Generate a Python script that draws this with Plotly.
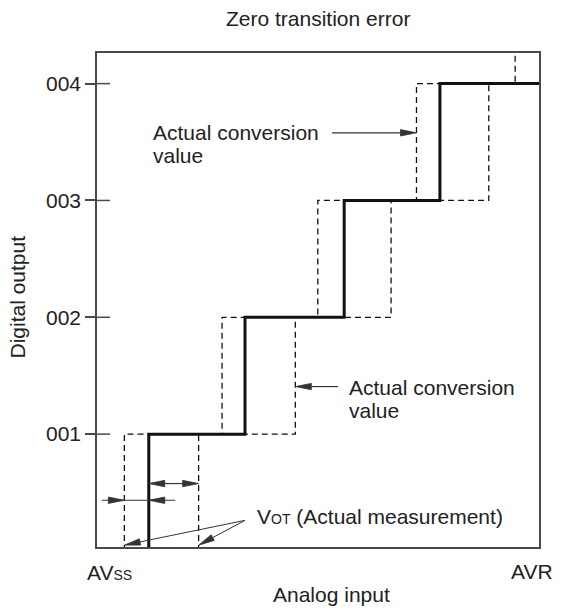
import math
import plotly.graph_objects as go

# ---------------- data ----------------
codes = [1, 2, 3, 4]
code_labels = ["001", "002", "003", "004"]
# transition points (x in LSB-step units from AVss)
early_transitions = [0.28, 1.28, 2.26, 3.27, 4.28]   # dashed, left staircase
actual_transitions = [0.53, 1.515, 2.53, 3.51]       # bold staircase
late_transitions = [1.04, 2.03, 3.01, 4.01]          # dashed, right staircase

# ---------------- layout geometry ----------------
W, H = 573, 608
ML, MR, MT, MB = 97, 34, 53, 61
X_RANGE = [0, 4.524]
Y_RANGE = [0.034, 4.262]
SX = (W - ML - MR) / (X_RANGE[1] - X_RANGE[0])
SY = (H - MT - MB) / (Y_RANGE[1] - Y_RANGE[0])
X_END = X_RANGE[1] + 1

FONT = "Liberation Sans, Arial, Helvetica, sans-serif"
TXT = "#222222"
AX = "#4a4a4a"
ARW = "#333333"
FS = 21

fig = go.Figure()

# dashed staircases
fig.add_trace(go.Scatter(
    x=early_transitions + [X_END], y=[0] + codes + [codes[-1] + 1],
    mode="lines", line=dict(color="#111111", width=1.3, dash="6px,4px", shape="vh"),
    hoverinfo="skip", showlegend=False))
fig.add_trace(go.Scatter(
    x=late_transitions + [X_END], y=[0] + codes,
    mode="lines", line=dict(color="#111111", width=1.3, dash="6px,4px", shape="vh"),
    hoverinfo="skip", showlegend=False))
# bold staircase
fig.add_trace(go.Scatter(
    x=actual_transitions + [X_END], y=[0] + codes,
    mode="lines", line=dict(color="#111111", width=3, shape="vh"),
    hoverinfo="skip", showlegend=False))


def add_arrow(x0, y0, x1, y1, head_len=16, half_w=3.2, width=1.2, color=ARW, line=True):
    dxp = (x1 - x0) * SX
    dyp = (y1 - y0) * SY
    L = math.hypot(dxp, dyp)
    ux, uy = dxp / L, dyp / L
    bx = x1 - ux * head_len / SX
    by = y1 - uy * head_len / SY
    px, py = -uy, ux
    p1 = (bx + px * half_w / SX, by + py * half_w / SY)
    p2 = (bx - px * half_w / SX, by - py * half_w / SY)
    if line:
        fig.add_trace(go.Scatter(x=[x0, bx], y=[y0, by], mode="lines",
                                 line=dict(color=color, width=width),
                                 hoverinfo="skip", showlegend=False))
    fig.add_trace(go.Scatter(x=[x1, p1[0], p2[0], x1], y=[y1, p1[1], p2[1], y1],
                             mode="lines", fill="toself", fillcolor=color,
                             line=dict(color=color, width=0.8),
                             hoverinfo="skip", showlegend=False))


# "Actual conversion value" (top) -> early staircase
y_top_arrow = 3.579
add_arrow(2.405, y_top_arrow, early_transitions[3], y_top_arrow)
# "Actual conversion value" (bottom) -> late staircase
y_bot_arrow = 1.407
add_arrow(2.467, y_bot_arrow, late_transitions[1], y_bot_arrow)

# dimension arrow between actual and late transition (outward heads)
y_dim_a = 0.577
mid_a = (actual_transitions[0] + late_transitions[0]) / 2
add_arrow(mid_a, y_dim_a, actual_transitions[0], y_dim_a)
add_arrow(mid_a, y_dim_a, late_transitions[0], y_dim_a)

# dimension arrow between early and actual transition (inward heads)
y_dim_b = 0.434
fig.add_trace(go.Scatter(x=[0.05, 0.80], y=[y_dim_b, y_dim_b], mode="lines",
                         line=dict(color=ARW, width=1.2), hoverinfo="skip", showlegend=False))
add_arrow(0.05, y_dim_b, early_transitions[0], y_dim_b, line=False)
add_arrow(0.80, y_dim_b, actual_transitions[0], y_dim_b, line=False)

# VOT arrows
vot_tail = (1.515, 0.262)
add_arrow(vot_tail[0], vot_tail[1], early_transitions[0], 0.05, width=1.0)
add_arrow(vot_tail[0], vot_tail[1], late_transitions[0], 0.05, width=1.0)

# tick marks crossing the axis (inner part)
shapes = []
for c in codes:
    shapes.append(dict(type="line", xref="x domain", yref="y", x0=0, x1=13 / (W - ML - MR),
                       y0=c, y1=c, line=dict(color=AX, width=1.5)))

annotations = []


def txt(text, x, y, xref="x", yref="y", xanchor="left", yanchor="middle", size=FS, angle=0):
    annotations.append(dict(text=text, x=x, y=y, xref=xref, yref=yref, xanchor=xanchor,
                            yanchor=yanchor, showarrow=False, textangle=angle,
                            font=dict(family=FONT, size=size, color=TXT)))


PH = H - MT - MB
txt("Actual conversion", 0.553, 3.585)
txt("value", 0.553, 3.388)
txt("Actual conversion", 2.559, 1.40)
txt("value", 2.559, 1.205)
txt("V<span style='font-size:14px'>OT</span> (Actual measurement)", 1.617, 0.296)

txt("Zero transition error", 0.5, 1 + (MT - 18) / PH, xref="paper", yref="paper",
    xanchor="center")
txt("Analog input", 0.53, -(594 - (H - MB)) / PH, xref="paper", yref="paper",
    xanchor="center")
txt("AV<span style='font-size:14px'>SS</span>", -0.027, -(572 - (H - MB)) / PH,
    xref="paper", yref="paper")
txt("AVR", 0.985, -(571 - (H - MB)) / PH, xref="paper", yref="paper",
    xanchor="center")
txt("Digital output", -(ML - 18) / (W - ML - MR), 0.505, xref="paper", yref="paper",
    xanchor="center", angle=-90)

fig.update_layout(
    width=W, height=H,
    margin=dict(l=ML, r=MR, t=MT, b=MB),
    paper_bgcolor="white", plot_bgcolor="white",
    showlegend=False,
    shapes=shapes, annotations=annotations,
    xaxis=dict(range=X_RANGE, showgrid=False, zeroline=False, showticklabels=False,
               ticks="", showline=True, mirror=True, linecolor=AX, linewidth=1.5,
               fixedrange=True),
    yaxis=dict(range=Y_RANGE, showgrid=False, zeroline=False, tickmode="array",
               tickvals=codes, ticktext=code_labels, ticks="outside", ticklen=10,
               tickwidth=1.5, tickcolor=AX, showline=True, mirror=True, linecolor=AX,
               linewidth=1.5, tickfont=dict(family=FONT, size=FS, color=TXT),
               fixedrange=True),
)

fig.write_html("out.html", config={"displayModeBar": False},
               post_script="document.body.style.margin='0';document.body.style.overflow='hidden';")
